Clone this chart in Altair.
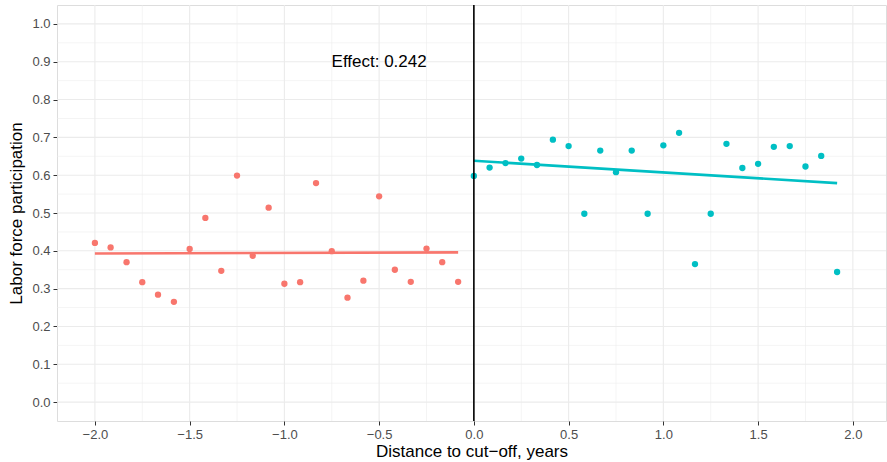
import altair as alt
import pandas as pd

left_x = [-2.000, -1.917, -1.833, -1.750, -1.667, -1.583, -1.500, -1.417, -1.333, -1.250,
          -1.167, -1.083, -1.000, -0.917, -0.833, -0.750, -0.667, -0.583, -0.500, -0.417,
          -0.333, -0.250, -0.167, -0.083]
left_y = [0.421, 0.409, 0.370, 0.317, 0.284, 0.265, 0.405, 0.487, 0.347, 0.599,
          0.387, 0.514, 0.313, 0.317, 0.579, 0.399, 0.276, 0.321, 0.544, 0.350,
          0.318, 0.406, 0.370, 0.318]
right_x = [0.000, 0.083, 0.167, 0.250, 0.333, 0.417, 0.500, 0.583, 0.667, 0.750,
           0.833, 0.917, 1.000, 1.083, 1.167, 1.250, 1.333, 1.417, 1.500, 1.583,
           1.667, 1.750, 1.833, 1.917]
right_y = [0.598, 0.620, 0.632, 0.644, 0.627, 0.694, 0.677, 0.498, 0.665, 0.608,
           0.665, 0.498, 0.679, 0.712, 0.365, 0.498, 0.683, 0.619, 0.630, 0.675,
           0.677, 0.623, 0.651, 0.344]

# fitted lines (endpoints)
fit_left_x = [-2.000, -0.083]
fit_left_y = [0.393, 0.396]
fit_right_x = [0.000, 1.917]
fit_right_y = [0.638, 0.579]

x_major = [-2.0, -1.5, -1.0, -0.5, 0.0, 0.5, 1.0, 1.5, 2.0]
x_minor = [-1.75, -1.25, -0.75, -0.25, 0.25, 0.75, 1.25, 1.75]
y_major = [0.0, 0.1, 0.2, 0.3, 0.4, 0.5, 0.6, 0.7, 0.8, 0.9, 1.0]
y_minor = [0.05, 0.15, 0.25, 0.35, 0.45, 0.55, 0.65, 0.75, 0.85, 0.95]

effect_label = "Effect: 0.242"
effect_pos = (-0.5, 0.9)

df = pd.DataFrame({
    "x": left_x + right_x,
    "y": left_y + right_y,
    "side": ["before"] * len(left_x) + ["after"] * len(right_x),
})
fit = pd.DataFrame({
    "x": fit_left_x + fit_right_x,
    "y": fit_left_y + fit_right_y,
    "side": ["before"] * 2 + ["after"] * 2,
})

xscale = alt.Scale(domain=[-2.2, 2.175], nice=False, zero=False)
yscale = alt.Scale(domain=[-0.05, 1.05], nice=False, zero=False)

axis_common = dict(
    grid=False, domain=False, tickColor="#333333", tickSize=4, tickWidth=1,
    labelColor="#4D4D4D", labelFontSize=13, labelFont="Liberation Sans",
    titleFont="Liberation Sans", titleFontSize=17, titleFontWeight="normal",
    titleColor="black",
)
xaxis = alt.Axis(values=x_major, format=".1f", title="Distance to cut\u2212off, years",
                 labelPadding=3, titlePadding=2, **axis_common)
yaxis = alt.Axis(values=y_major, format=".1f", title="Labor force participation",
                 labelPadding=3, titlePadding=6, **axis_common)

X = alt.X("x:Q", scale=xscale, axis=xaxis)
Y = alt.Y("y:Q", scale=yscale, axis=yaxis)

color = alt.Color("side:N", scale=alt.Scale(domain=["before", "after"],
                                             range=["#F8766D", "#00BFC4"]), legend=None)

gx_major = alt.Chart(pd.DataFrame({"x": x_major})).mark_rule(
    color="#EBEBEB", strokeWidth=1.1).encode(x=X)
gx_minor = alt.Chart(pd.DataFrame({"x": x_minor})).mark_rule(
    color="#EBEBEB", strokeWidth=0.55).encode(x=X)
gy_major = alt.Chart(pd.DataFrame({"y": y_major})).mark_rule(
    color="#EBEBEB", strokeWidth=1.1).encode(y=Y)
gy_minor = alt.Chart(pd.DataFrame({"y": y_minor})).mark_rule(
    color="#EBEBEB", strokeWidth=0.55).encode(y=Y)

points = alt.Chart(df).mark_circle(size=40, opacity=1).encode(x=X, y=Y, color=color)

lines = alt.Chart(fit).mark_line(strokeWidth=2.6).encode(
    x=X, y=Y, color=color, detail="side:N")

vline = alt.Chart(pd.DataFrame({"x": [0.0]})).mark_rule(
    color="black", strokeWidth=1.6).encode(x=X)

text = alt.Chart(pd.DataFrame({"x": [effect_pos[0]], "y": [effect_pos[1]],
                               "t": [effect_label]})).mark_text(
    fontSize=17, font="Liberation Sans", color="black", align="center",
    baseline="middle").encode(x=X, y=Y, text="t:N")

chart = alt.layer(gx_minor, gy_minor, gx_major, gy_major, points, lines, vline, text).properties(
    width=829, height=416,
    autosize=alt.AutoSizeParams(type="none"),
    padding={"left": 57, "top": 5, "right": 1, "bottom": 41},
).configure_view(stroke="#333333", strokeWidth=1).configure(background="white")

chart.save("out.html", embed_options={"renderer": "svg", "actions": False})
